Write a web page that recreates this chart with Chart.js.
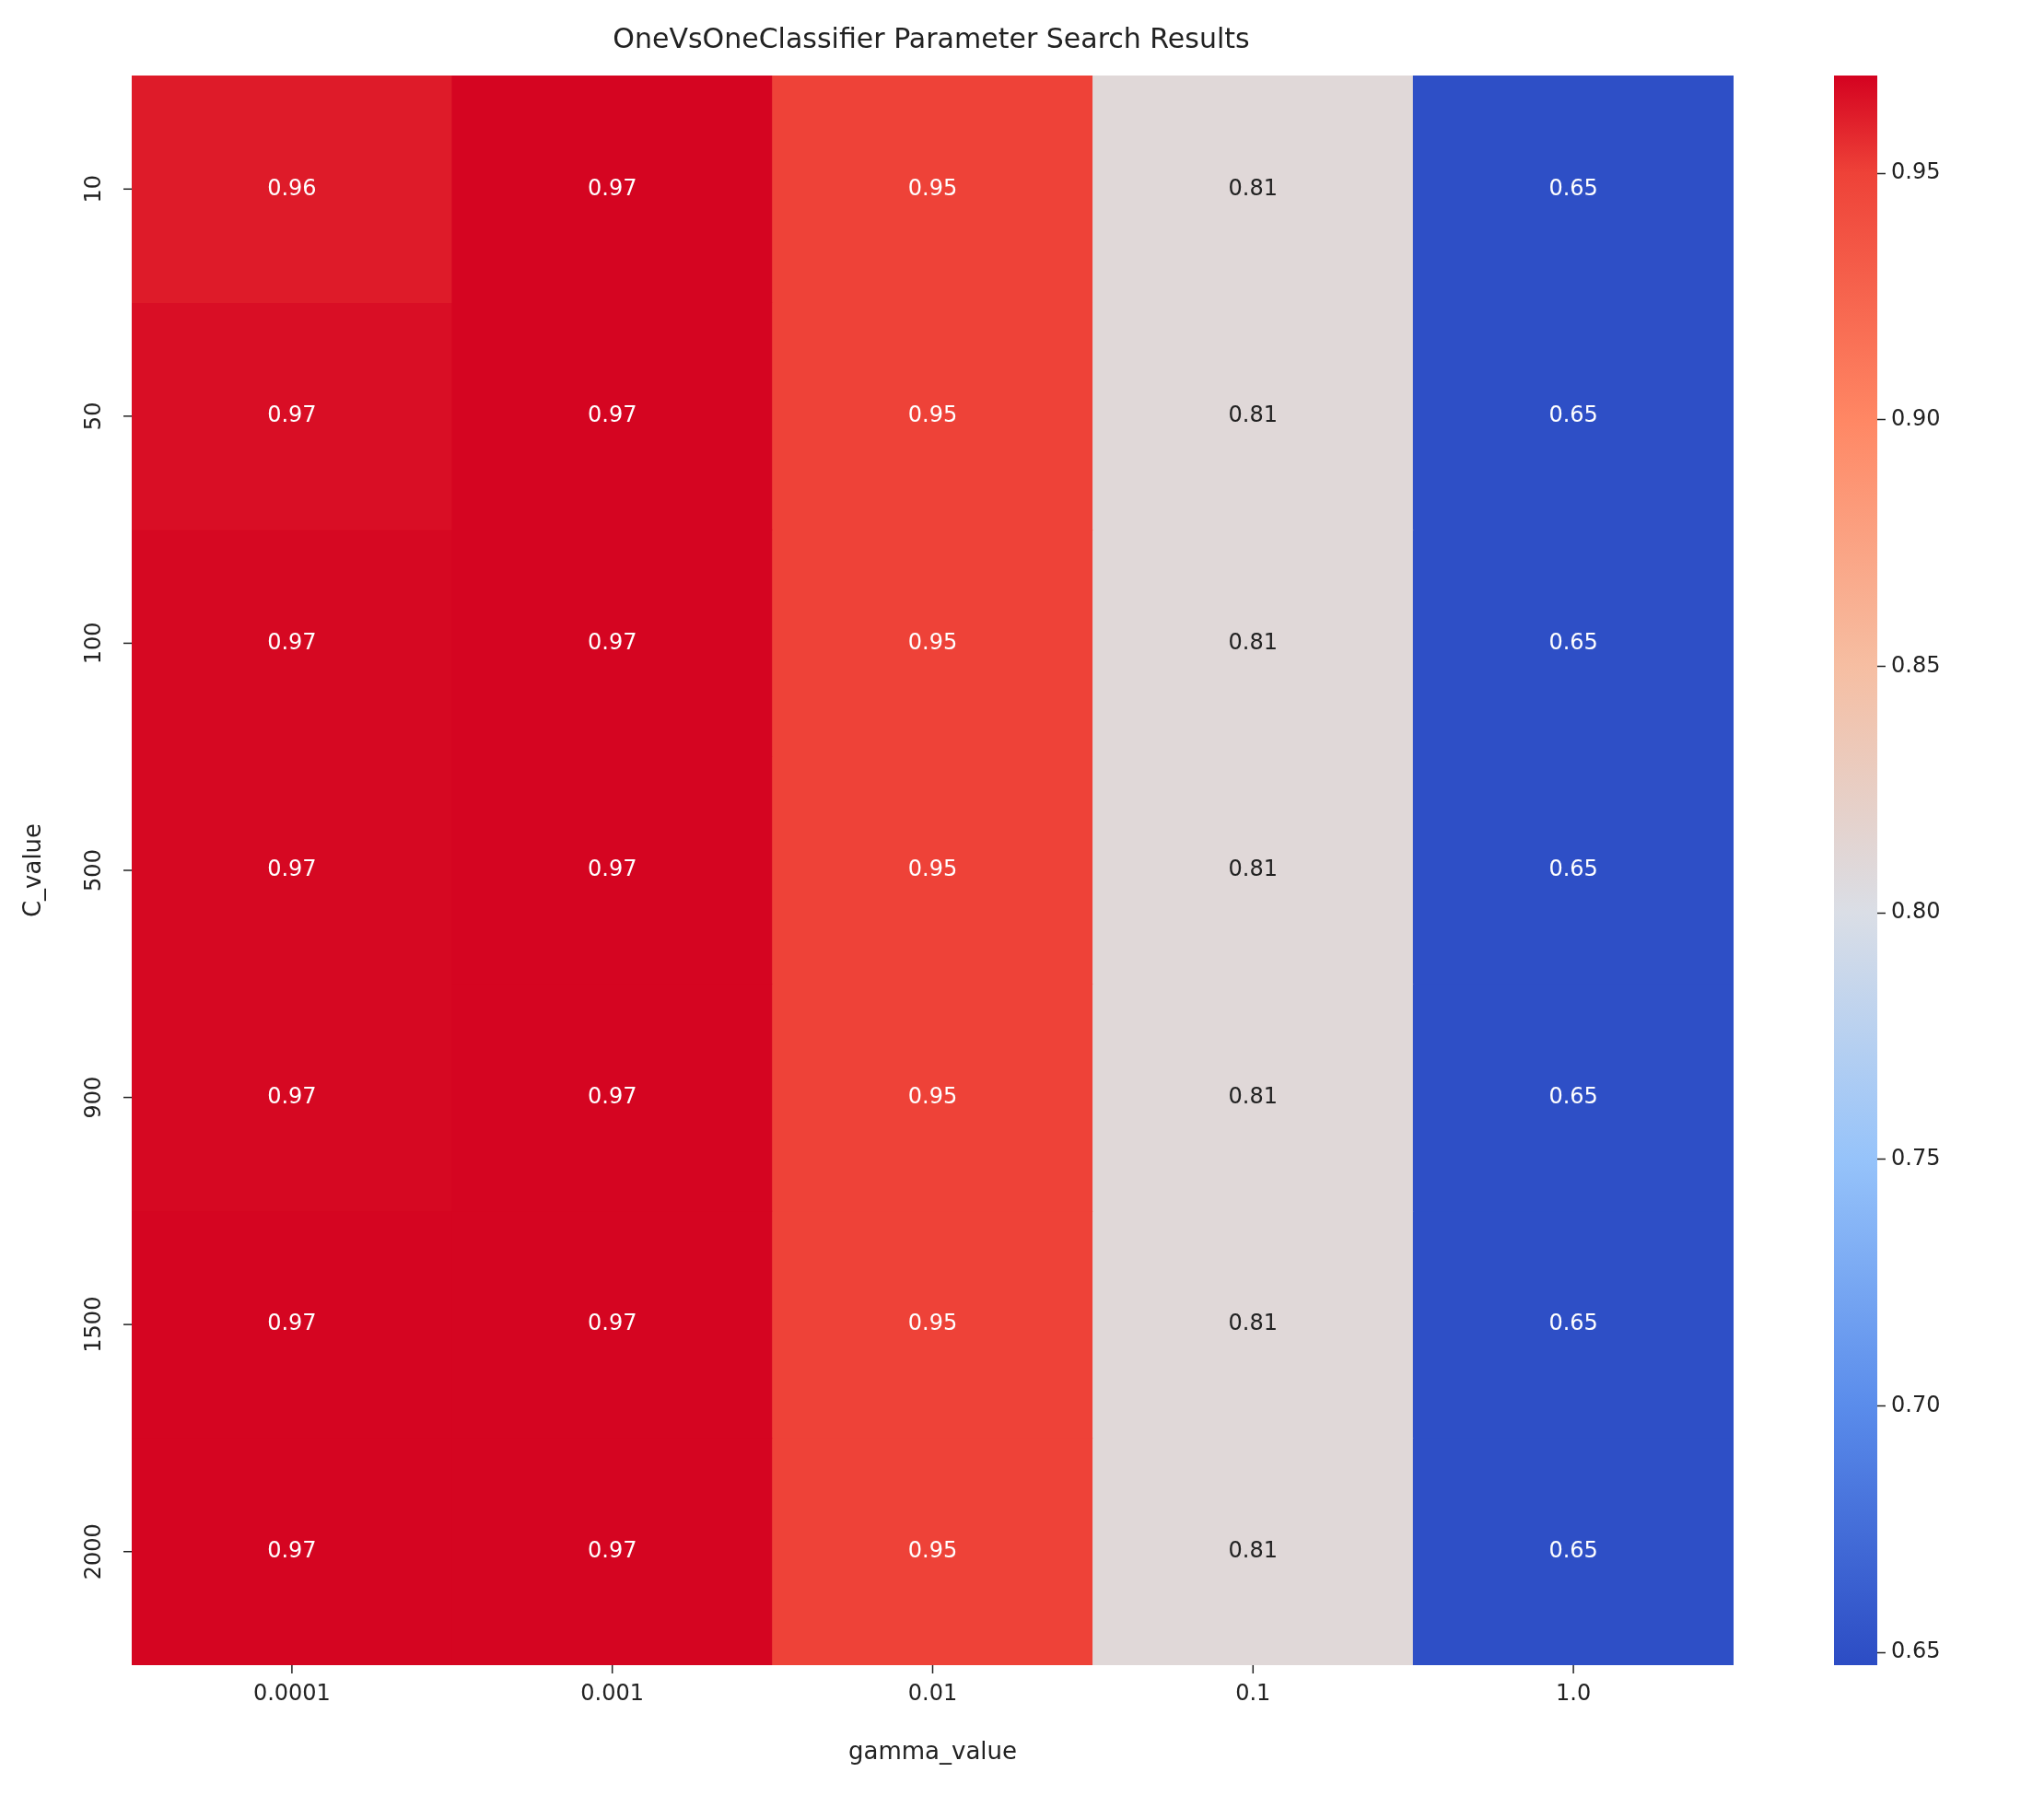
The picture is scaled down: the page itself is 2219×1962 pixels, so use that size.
<!DOCTYPE html>
<html><head><meta charset="utf-8">
<script src="https://cdn.jsdelivr.net/npm/chart.js@4/dist/chart.umd.min.js"></script>
<style>html,body{margin:0;padding:0;background:#fff;width:2219px;height:1962px;overflow:hidden}
canvas{position:absolute;top:0}</style></head><body>
<div style="position:absolute;left:0;top:0;width:2219px;height:1962px"><canvas id="m"></canvas></div>
<div style="position:absolute;left:1991px;top:0;width:228px;height:1962px"><canvas id="c"></canvas></div>
<script>
const gammaLabels = ['0.0001','0.001','0.01','0.1','1.0'];
const cLabels = ['10','50','100','500','900','1500','2000'];
const scores = [
  [0.962,0.969,0.950,0.810,0.650],
  [0.966,0.969,0.950,0.810,0.650],
  [0.968,0.969,0.950,0.810,0.650],
  [0.968,0.969,0.950,0.810,0.650],
  [0.968,0.969,0.950,0.810,0.650],
  [0.969,0.969,0.950,0.810,0.650],
  [0.969,0.969,0.950,0.810,0.650]
];
const cbarTicks = [0.65,0.70,0.75,0.80,0.85,0.90,0.95];
const VMIN = 0.6474, VMAX = 0.9698;
const FONT = 'DejaVu Sans';
const stops = [[0.6474,[44,76,196]],[0.70,[90,140,235]],[0.75,[150,195,250]],[0.80,[218,222,230]],
  [0.85,[246,190,162]],[0.90,[255,135,100]],[0.95,[238,66,56]],[0.9698,[212,2,32]]];
function cmap(v){
  for(let i=1;i<stops.length;i++){
    if(v<=stops[i][0]){const [a,ca]=stops[i-1],[b,cb]=stops[i];const t=Math.max(0,(v-a)/(b-a));
      return 'rgb('+ca.map((x,k)=>Math.round(x+(cb[k]-x)*t)).join(',')+')';}
  }
  return 'rgb(212,2,32)';
}
const datasets = cLabels.map((c,r)=>({
  label:c, data: gammaLabels.map(()=>[r,r+1]),
  backgroundColor: scores[r].map(cmap), borderWidth:0,
  barPercentage:1, categoryPercentage:1, grouped:false
}));
const deco = {
  id:'deco',
  afterDatasetsDraw(ch){
    const ctx=ch.ctx, xs=ch.scales.x, ys=ch.scales.y, a=ch.chartArea;
    ctx.save();
    ctx.textAlign='center'; ctx.textBaseline='middle';
    ctx.font='24px "'+FONT+'"';
    scores.forEach((row,r)=>row.forEach((v,c)=>{
      ctx.fillStyle = v>0.75 && v<0.85 ? '#222' : '#fff';
      ctx.fillText(v.toFixed(2), xs.getPixelForValue(c), ys.getPixelForValue(r+0.5));
    }));
    ctx.strokeStyle='#222'; ctx.lineWidth=1.5; ctx.fillStyle='#222';
    gammaLabels.forEach((g,c)=>{const x=xs.getPixelForValue(c);
      ctx.beginPath();ctx.moveTo(x,a.bottom);ctx.lineTo(x,a.bottom+9);ctx.stroke();
      ctx.textBaseline='top';ctx.fillText(g,x,a.bottom+20);});
    cLabels.forEach((l,r)=>{const y=ys.getPixelForValue(r+0.5);
      ctx.beginPath();ctx.moveTo(a.left,y);ctx.lineTo(a.left-9,y);ctx.stroke();
      ctx.save();ctx.translate(a.left-28,y);ctx.rotate(-Math.PI/2);ctx.textBaseline='bottom';ctx.fillText(l,0,0);ctx.restore();});
    ctx.textBaseline='top'; ctx.font='26px "'+FONT+'"';
    ctx.fillText('gamma_value',(a.left+a.right)/2,1890);
    ctx.save();ctx.translate(24,(a.top+a.bottom)/2);ctx.rotate(-Math.PI/2);ctx.textBaseline='top';ctx.fillText('C_value',0,0);ctx.restore();
    ctx.font='30px "'+FONT+'"';ctx.textBaseline='middle';
    ctx.fillText('OneVsOneClassifier Parameter Search Results',1011,44);
    ctx.restore();
  }
};
new Chart(document.getElementById('m'),{
  type:'bar',
  data:{labels:gammaLabels,datasets},
  options:{responsive:true,maintainAspectRatio:false,animation:false,
    layout:{padding:{left:143,top:82,right:337,bottom:154}},
    plugins:{legend:{display:false},tooltip:{enabled:false}},
    scales:{x:{display:false},y:{display:false,min:0,max:7,reverse:true}}},
  plugins:[deco]
});
new Chart(document.getElementById('c'),{
  type:'bar',
  data:{labels:['cb'],datasets:[{data:[[VMIN,VMAX]],barPercentage:1,categoryPercentage:1,borderWidth:0,
    backgroundColor(ctx){const ch=ctx.chart,a=ch.chartArea;if(!a)return '#ccc';
      const ys=ch.scales.y,g=ch.ctx.createLinearGradient(0,ys.getPixelForValue(VMIN),0,ys.getPixelForValue(VMAX));
      stops.forEach(([v])=>g.addColorStop((v-VMIN)/(VMAX-VMIN),cmap(v)));return g;}}]},
  options:{responsive:true,maintainAspectRatio:false,animation:false,
    layout:{padding:{left:0,top:82,right:0,bottom:154}},
    plugins:{legend:{display:false},tooltip:{enabled:false}},
    scales:{x:{display:false},
      y:{position:'right',min:VMIN,max:VMAX,
        afterBuildTicks(s){s.ticks=cbarTicks.map(v=>({value:v}));},
        afterFit(s){s.width=181;},
        grid:{drawOnChartArea:false,drawTicks:true,tickLength:9,color:'#222',tickWidth:1.5},
        border:{display:false},
        ticks:{color:'#222',padding:6,font:{family:FONT,size:24},callback:v=>v.toFixed(2)}}}}
});
</script></body></html>
